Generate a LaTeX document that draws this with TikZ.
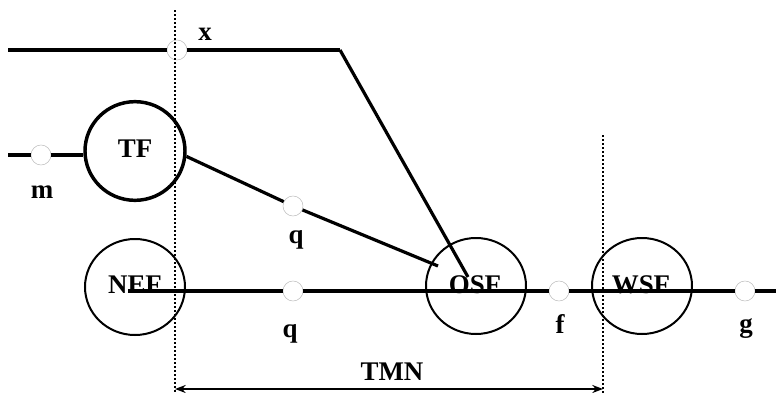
\documentclass[tikz,border=0pt]{standalone}
\usepackage{fontspec}
\setmainfont{Liberation Serif}
\usetikzlibrary{arrows.meta,shapes.geometric}

\begin{document}
\begin{tikzpicture}[x=0.75pt,y=-0.75pt,
  unit/.style={ellipse,draw=black,line width=1.5pt,minimum width=75pt,minimum height=72pt,inner sep=0pt},
  spot/.style={circle,draw=black!25,fill=white,line width=0.4pt,minimum size=15pt,inner sep=0pt},
  lbl/.style={anchor=base,inner sep=0pt,font=\fontsize{20.2}{23}\selectfont\bfseries},
  wire/.style={line width=3.2pt},
  link/.style={line width=2.4pt},
  guide/.style={line width=1.6pt,dash pattern=on 1.5pt off 1.5pt}]
\useasboundingbox (0,0) rectangle (776,393);
\node[unit,minimum height=74pt,line width=2.6pt] (tf) at (135,151) {};
\node[unit] (nef) at (135,287) {};
\node[unit] (osf) at (476,286) {};
\node[unit] (wsf) at (642,286) {};
\node[lbl] (tftxt) at (135,157) {TF};
\node[lbl] (neftxt) at (135,293) {NEF};
\node[lbl] (osftxt) at (475,293) {OSF};
\node[lbl] (wsftxt) at (641,293) {WSF};
\node[spot] (px) at (177,50) {};
\node[spot] (m) at (41,155) {};
\node[spot] (q1) at (293,206) {};
\node[spot] (q2) at (293,291) {};
\node[spot] (f) at (559,291) {};
\node[spot] (g) at (745,291) {};
\coordinate (xa) at (8,50);
\coordinate (xk) at (340,50);
\coordinate (xe) at (468,277);
\coordinate (ma) at (8,155);
\coordinate (qe) at (438,266);
\coordinate (na) at (128,291);
\coordinate (ne) at (776,291);
\coordinate (gl) at (175,10);
\coordinate (bl) at (175,393);
\coordinate (gr) at (603,135);
\coordinate (br) at (603,393);
\coordinate (al) at (175,389);
\coordinate (ar) at (603,389);
\draw[guide] (gl) -- (bl);
\draw[guide] (gr) -- (br);
\draw[wire] (xa) -- (px) -- (xk);
\draw[link] (xk) -- (xe);
\draw[wire] (ma) -- (m) -- (m -| tf.west);
\draw[link] (tf.-6) -- (q1) -- (qe);
\draw[wire] (na) -- (q2) -- (f) -- (g) -- (ne);
\draw[line width=1.5pt,{Stealth[length=8pt,width=6pt]}-{Stealth[length=8pt,width=6pt]}] (al) -- (ar);
\node[lbl] (xlbl) at (205,40) {x};
\node[lbl] (mlbl) at (42,198) {m};
\node[lbl] (q1lbl) at (296,243) {q};
\node[lbl] (q2lbl) at (290,337) {q};
\node[lbl] (flbl) at (560,333) {f};
\node[lbl] (glbl) at (746,332) {g};
\node[lbl] (tmn) at (392,380) {TMN};
\end{tikzpicture}
\end{document}
